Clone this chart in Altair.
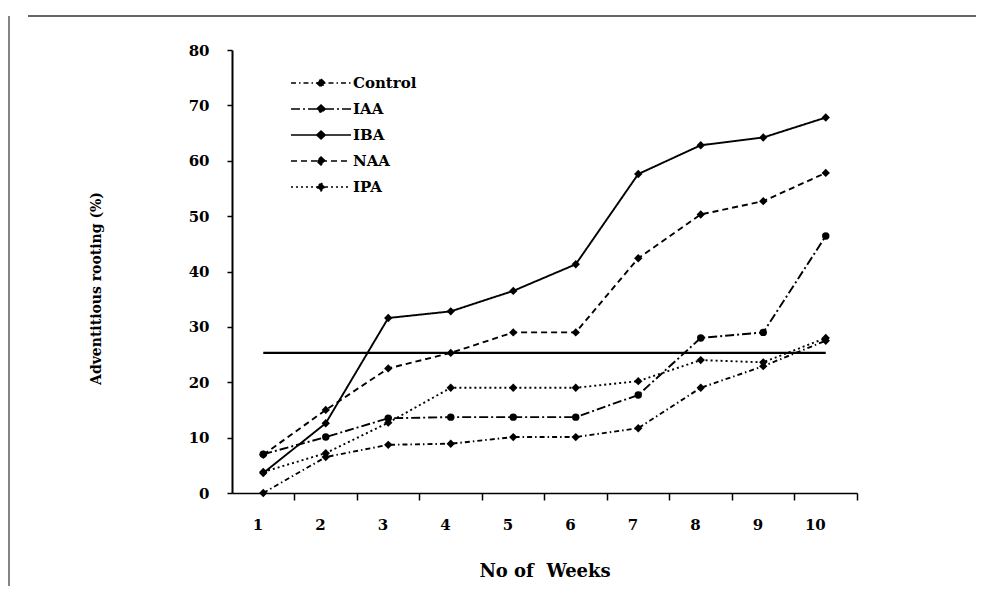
import altair as alt
import pandas as pd

weeks = [1, 2, 3, 4, 5, 6, 7, 8, 9, 10]
series_names = ["Control", "IAA", "IBA", "NAA", "IPA"]
control = [0.0, 6.5, 8.7, 8.9, 10.1, 10.1, 11.7, 19.0, 22.9, 27.5]
iaa = [7.0, 10.1, 13.5, 13.7, 13.7, 13.7, 17.7, 28.0, 29.0, 46.4]
iba = [3.6, 12.6, 31.6, 32.8, 36.5, 41.3, 57.6, 62.8, 64.2, 67.8]
naa = [6.9, 15.0, 22.5, 25.3, 29.0, 29.0, 42.4, 50.3, 52.7, 57.8]
ipa = [3.8, 7.2, 12.7, 19.0, 19.0, 19.0, 20.2, 24.0, 23.6, 28.0]
ref_weeks = [1, 10]
ref_values = [25.3, 25.3]
y_ticks = [0, 10, 20, 30, 40, 50, 60, 70, 80]

rows = []
for name, vals in zip(series_names, [control, iaa, iba, naa, ipa]):
    for w, v in zip(weeks, vals):
        rows.append({"Week": w, "Treatment": name, "Rooting": v})
df = pd.DataFrame(rows)
ref_df = pd.DataFrame({"Week": ref_weeks, "Rooting": ref_values})
frame_df = pd.DataFrame({"k": [0]})

FONT = "DejaVu Serif"
dash_range = [[5, 3, 1.5, 3], [9, 3, 2, 3], [1, 0], [6, 4], [2, 3]]

x_enc = alt.X(
    "Week:O",
    scale=alt.Scale(type="band", domain=weeks, paddingInner=0, paddingOuter=0),
    axis=alt.Axis(
        title="No of\u00a0 Weeks",
        labelAngle=0,
        bandPosition=1,
        tickSize=7,
        tickWidth=1.5,
        labelPadding=24,
        domainWidth=1.5,
        titleFontSize=18,
        titleY=78,
        titleBaseline="middle",
    ),
)
y_enc = alt.Y(
    "Rooting:Q",
    scale=alt.Scale(domain=[0, 80], nice=False),
    axis=alt.Axis(
        title="Adventitious rooting (%)",
        values=y_ticks,
        tickSize=5,
        tickWidth=1.5,
        labelPadding=18,
        domainWidth=2,
        titleFontSize=14,
        titleAngle=270,
        titleX=-136,
        titleY=238,
        titleAlign="center",
        titleBaseline="middle",
    ),
)

lines = alt.Chart(df).mark_line(color="black", strokeWidth=1.9).encode(
    x=x_enc,
    y=y_enc,
    strokeDash=alt.StrokeDash(
        "Treatment:N",
        scale=alt.Scale(domain=series_names, range=dash_range),
        legend=alt.Legend(
            title=None,
            orient="none",
            legendX=58,
            legendY=20,
            padding=0,
            symbolType="M-1,0H1M0,-0.13L0.14,0L0,0.13L-0.14,0Z",
            symbolSize=3600,
            clipHeight=26,
            rowPadding=0,
            symbolStrokeWidth=1.6,
            symbolStrokeColor="black",
            symbolFillColor="black",
            labelFont=FONT,
            labelFontSize=15,
            labelFontWeight="bold",
            labelColor="black",
            labelOffset=1,
        ),
    ),
)

points_diamond = (
    alt.Chart(df)
    .transform_filter(alt.datum.Treatment != "IAA")
    .mark_point(filled=True, size=70, shape="diamond", color="black", opacity=1)
    .encode(x=alt.X("Week:O"), y=alt.Y("Rooting:Q"))
)
points_circle = (
    alt.Chart(df)
    .transform_filter(alt.datum.Treatment == "IAA")
    .mark_point(filled=True, size=55, shape="circle", color="black", opacity=1)
    .encode(x=alt.X("Week:O"), y=alt.Y("Rooting:Q"))
)

ref_line = alt.Chart(ref_df).mark_line(color="black", strokeWidth=2.2).encode(
    x=alt.X("Week:O"),
    y=alt.Y("Rooting:Q"),
)

frame_top = alt.Chart(frame_df).mark_rule(color="#333333", strokeWidth=1.5).encode(
    x=alt.value(-204), x2=alt.value(752), y=alt.value(-34)
)
frame_left = alt.Chart(frame_df).mark_rule(color="#333333", strokeWidth=1.2).encode(
    x=alt.value(-223), y=alt.value(-34), y2=alt.value(536)
)

chart = (
    alt.layer(frame_top, frame_left, ref_line, lines, points_diamond, points_circle)
    .properties(
        width=625,
        height=443,
        autosize=alt.AutoSizeParams(type="none"),
        padding={"left": 224, "top": 42, "right": 119, "bottom": 93},
        background="white",
    )
    .configure_view(stroke=None)
    .configure_axis(
        grid=False,
        domainColor="black",
        tickColor="black",
        labelColor="black",
        titleColor="black",
        labelFont=FONT,
        labelFontSize=15,
        labelFontWeight="bold",
        titleFont=FONT,
        titleFontWeight="bold",
    )
)

chart.save("out.html", embed_options={"renderer": "svg", "actions": False})
